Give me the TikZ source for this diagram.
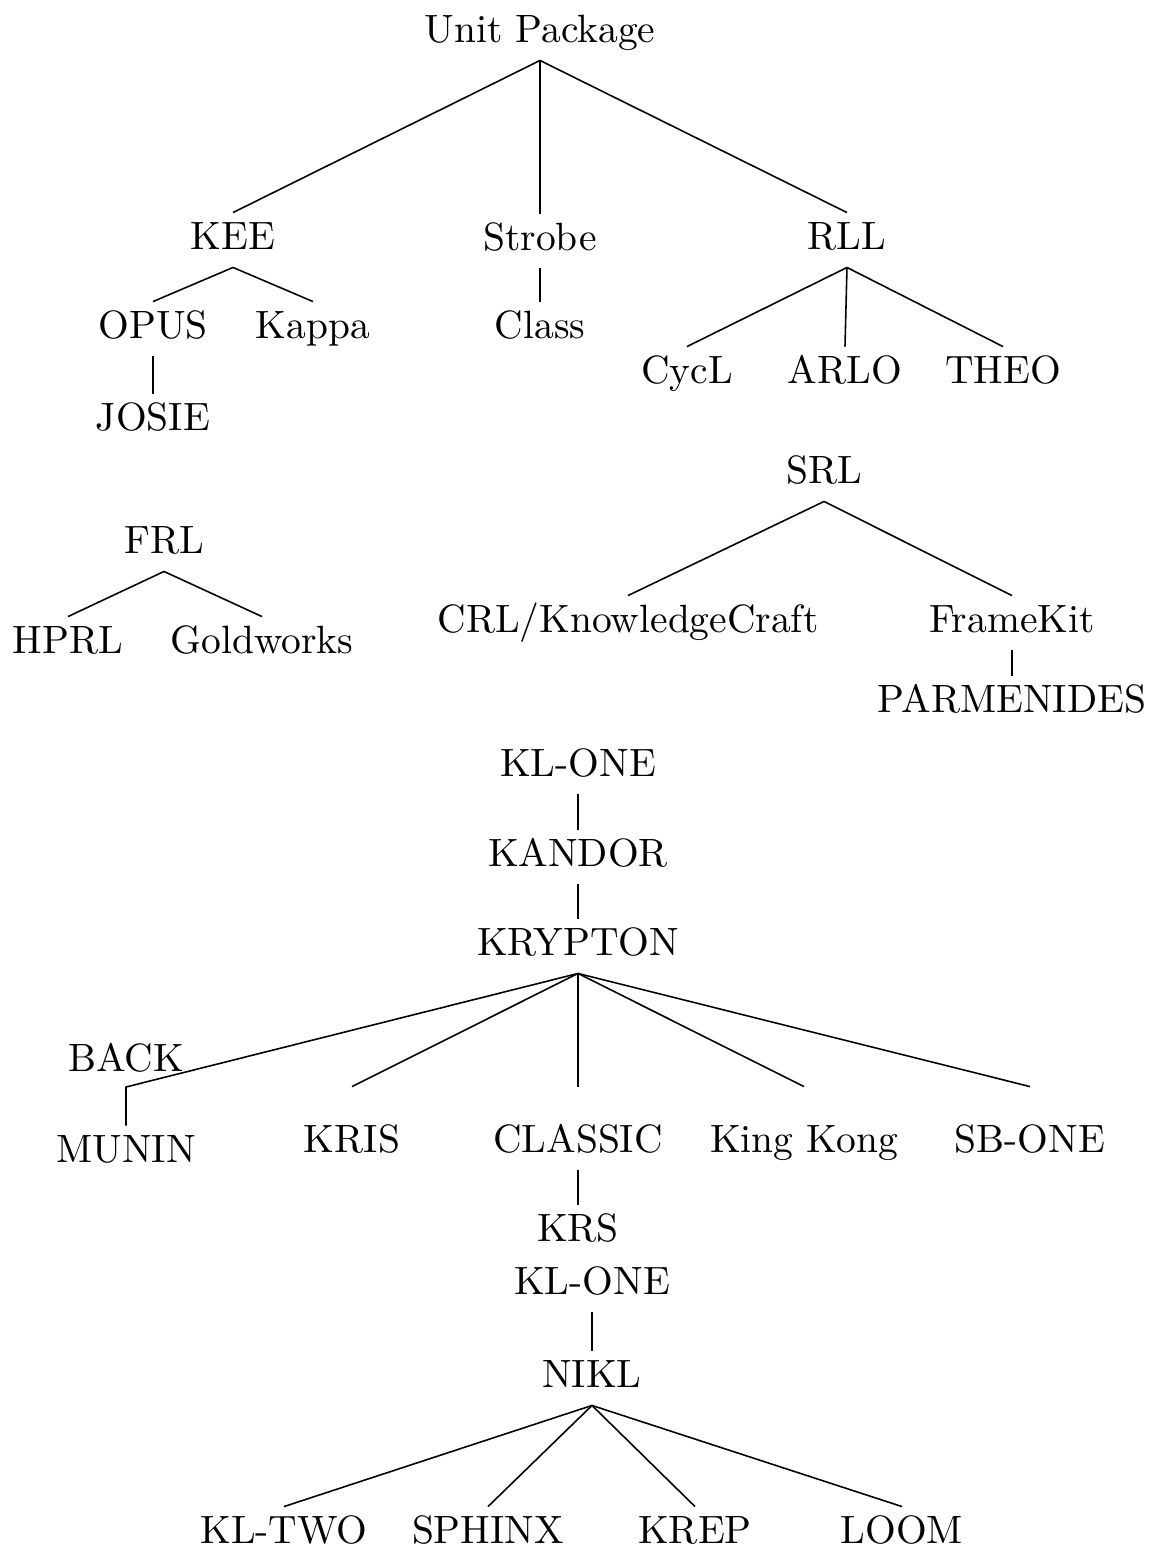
\documentclass[tikz,border=0pt]{standalone}
\usetikzlibrary{calc}
\begin{document}
\begin{tikzpicture}[x=0.2532pt,y=-0.2532pt,
  lbl/.style={inner sep=0pt, text height=9.2pt, text depth=4.3pt},
  br/.style={line width=0.4pt}]
\useasboundingbox (0,0) rectangle (1159,1548);
% Unit Package
\node[lbl] (unit) at (540,33) {Unit Package};
\node[lbl] (kee) at (233,240) {KEE};
\node[lbl] (strobe) at (540,241) {Strobe};
\node[lbl] (rll) at (847,240) {RLL};
\node[lbl] (opus) at (153,329) {OPUS};
\node[lbl] (kappa) at (313,329) {Kappa};
\node[lbl] (class) at (540,329) {Class};
\node[lbl] (josie) at (153,421) {JOSIE};
\node[lbl] (cycl) at (687,374) {CycL};
\node[lbl] (arlo) at (845,374) {ARLO};
\node[lbl] (theo) at (1003,374) {THEO};
\foreach \c in {kee,strobe,rll} \draw[br] (unit.south) -- (\c.north);
\foreach \c in {opus,kappa} \draw[br] (kee.south) -- (\c.north);
\draw[br] (strobe.south) -- (class.north);
\draw[br] (opus.south) -- (josie.north);
\foreach \c in {cycl,arlo,theo} \draw[br] (rll.south) -- (\c.north);
% FRL
\node[lbl] (frl) at (164,544) {FRL};
\node[lbl] (hprl) at (68,644) {HPRL};
\node[lbl] (gold) at (262,644) {Goldworks};
\foreach \c in {hprl,gold} \draw[br] (frl.south) -- (\c.north);
% SRL
\node[lbl] (srl) at (824,474) {SRL};
\node[lbl] (crl) at (628,623) {CRL/KnowledgeCraft};
\node[lbl] (fkit) at (1012,623) {FrameKit};
\node[lbl] (parm) at (1012,703) {PARMENIDES};
\foreach \c in {crl,fkit} \draw[br] (srl.south) -- (\c.north);
\draw[br] (fkit.south) -- (parm.north);
% KL-ONE
\node[lbl] (klone) at (578,767) {KL-ONE};
\node[lbl] (kandor) at (578,857) {KANDOR};
\node[lbl] (krypton) at (578,946) {KRYPTON};
\draw[br] (klone.south) -- (kandor.north);
\draw[br] (kandor.south) -- (krypton.north);
\node[lbl] (back) at (126,1062) {BACK};
\coordinate (backpt) at (126,1087);
\node[lbl] (munin) at (126,1153) {MUNIN};
\node[lbl] (kris) at (352,1143) {KRIS};
\node[lbl] (classic) at (578,1143) {CLASSIC};
\node[lbl] (kkong) at (804,1143) {King Kong};
\node[lbl] (sbone) at (1030,1143) {SB-ONE};
\draw[br] (krypton.south) -- (backpt) -- (munin.north);
\foreach \c in {kris,classic,kkong,sbone} \draw[br] (krypton.south) -- ($(\c.north)+(0,-29)$);
\node[lbl] (krs) at (578,1232) {KRS};
\draw[br] (classic.south) -- (krs.north);
% NIKL
\node[lbl] (kltop) at (592,1285) {KL-ONE};
\node[lbl] (nikl) at (592,1378) {NIKL};
\draw[br] (kltop.south) -- (nikl.north);
\node[lbl] (kltwo) at (284,1534) {KL-TWO};
\node[lbl] (sphinx) at (488,1534) {SPHINX};
\node[lbl] (krep) at (695,1534) {KREP};
\node[lbl] (loom) at (902,1534) {LOOM};
\foreach \c in {kltwo,sphinx,krep,loom} \draw[br] (nikl.south) -- (\c.north);
\end{tikzpicture}
\end{document}
